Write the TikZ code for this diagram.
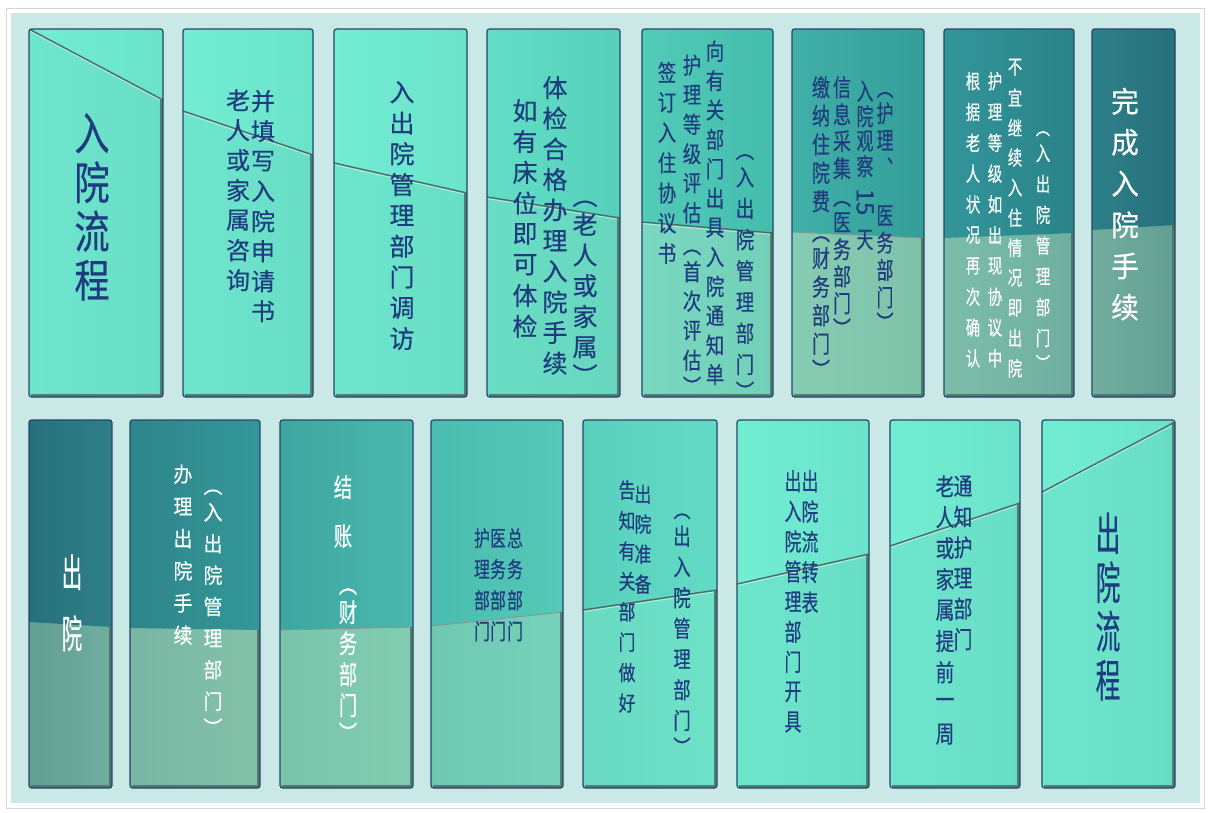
\documentclass[tikz,border=0pt]{standalone}
\usepackage{fontspec}
\usepackage{graphicx}
\newfontfamily\cjk[FakeBold=0.4]{Noto Sans CJK SC}
\makeatletter
\newcommand\vcol[4]{%
  \fontsize{#1}{#1}\selectfont
  \def\vp{#2}%
  \vbox{\offinterlineskip
    \@tfor\vch:=#4\do{%
      \vbox to #2pt{\vss\hbox to 0pt{\hss\scalebox{#3}[1]{\vch}\hss}\vss}}}}
\makeatother
\newcommand\po{\vbox to \vp pt{\vss\hbox{\rotatebox{-90}{（}}\kern0.5pt}}
\newcommand\pc{\vbox to \vp pt{\kern0.5pt\hbox{\rotatebox{-90}{）}}\vss}}
\definecolor{bgc}{HTML}{C9E8E6}
\definecolor{navy}{HTML}{1F3D7E}
\definecolor{bord}{HTML}{22486A}
\definecolor{shd}{HTML}{4E6C64}
\definecolor{La}{HTML}{72ECD3}\definecolor{Lb}{HTML}{6AE3CA}
\definecolor{Lc}{HTML}{6DE5CC}\definecolor{Ld}{HTML}{69DEC6}
\definecolor{t4a}{HTML}{62DEC6}\definecolor{t4b}{HTML}{55D0BA}
\definecolor{t4c}{HTML}{6ADDC4}\definecolor{t4d}{HTML}{68D6BF}
\definecolor{t5a}{HTML}{52CBB8}\definecolor{t5b}{HTML}{45BDAD}
\definecolor{t5c}{HTML}{7AD8C0}\definecolor{t5d}{HTML}{72CFB8}
\definecolor{t6a}{HTML}{40B0A8}\definecolor{t6b}{HTML}{349E9A}
\definecolor{t6c}{HTML}{86CCB2}\definecolor{t6d}{HTML}{7EC2AA}
\definecolor{t7a}{HTML}{32959A}\definecolor{t7b}{HTML}{2A8388}
\definecolor{t7c}{HTML}{7CBDA9}\definecolor{t7d}{HTML}{70AF9F}
\definecolor{t8a}{HTML}{2E7F88}\definecolor{t8b}{HTML}{26707C}
\definecolor{t8c}{HTML}{72AE9E}\definecolor{t8d}{HTML}{629E92}
\definecolor{b2a}{HTML}{2D8589}\definecolor{b2b}{HTML}{349799}
\definecolor{b2c}{HTML}{78B6A2}\definecolor{b2d}{HTML}{84C2AC}
\definecolor{b3a}{HTML}{3EA6A0}\definecolor{b3b}{HTML}{4AB8AE}
\definecolor{b3c}{HTML}{7AC4AC}\definecolor{b3d}{HTML}{82CCB2}
\definecolor{b4a}{HTML}{4ABDB0}\definecolor{b4b}{HTML}{55C8B7}
\definecolor{b4c}{HTML}{70C8B2}\definecolor{b4d}{HTML}{76D2BA}
\definecolor{b5a}{HTML}{58D0BC}\definecolor{b5b}{HTML}{63DAC4}
\definecolor{b5c}{HTML}{6ADAC3}\definecolor{b5d}{HTML}{6EE2C8}
\tikzset{
  lt/.style={left color=La, right color=Lb},
  lb/.style={left color=Lc, right color=Ld},
  t4t/.style={left color=t4a, right color=t4b}, t4l/.style={left color=t4c, right color=t4d},
  t5t/.style={left color=t5a, right color=t5b}, t5l/.style={left color=t5c, right color=t5d},
  t6t/.style={left color=t6a, right color=t6b}, t6l/.style={left color=t6c, right color=t6d},
  t7t/.style={left color=t7a, right color=t7b}, t7l/.style={left color=t7c, right color=t7d},
  t8t/.style={left color=t8a, right color=t8b}, t8l/.style={left color=t8c, right color=t8d},
  b1t/.style={left color=t8b, right color=t8a}, b1l/.style={left color=t8d, right color=t8c},
  b2t/.style={left color=b2a, right color=b2b}, b2l/.style={left color=b2c, right color=b2d},
  b3t/.style={left color=b3a, right color=b3b}, b3l/.style={left color=b3c, right color=b3d},
  b4t/.style={left color=b4a, right color=b4b}, b4l/.style={left color=b4c, right color=b4d},
  b5t/.style={left color=b5a, right color=b5b}, b5l/.style={left color=b5c, right color=b5d},
  divline/.style={draw=shd, line width=1.4pt,
    preaction={draw=white, draw opacity=0.45, line width=1pt, transform canvas={yshift=-1.6pt}}},
  divmid/.style={draw=shd!70, line width=0.9pt},
  divsoft/.style={draw=none},
  panelborder/.style={draw=bord, line width=1.2pt, rounded corners=2.5pt},
  shadowedge/.style={draw=shd, line width=3pt, opacity=0.85},
  tn/.style={inner sep=0pt, anchor=north, text=navy, font=\cjk},
  tw/.style={tn, text=white},
}
\newcommand\panel[9]{%
  \begin{scope}
    \clip[rounded corners=2.5pt] (#1,#3) rectangle (#2,#4);
    \path[#8] (#1,#3) rectangle (#2,#4);
    \path[#7] (#1,#3) -- (#2,#3) -- (#2,#6) -- (#1,#5) -- cycle;
    \draw[#9] (#1,#5) -- (#2,#6);
  \end{scope}
  \draw[shadowedge] (#2-1.8,#6) -- (#2-1.8,#4-1.6) -- (#1+2,#4-1.6);
  \draw[panelborder] (#1,#3) rectangle (#2,#4);
}
\begin{document}
\begin{tikzpicture}[x=1pt,y=-1pt]
\useasboundingbox (0,0) rectangle (1209,812);
\fill[white] (0,0) rectangle (1209,812);
\draw[black!16, line width=0.8pt] (6,8) rectangle (1204,808);
\fill[bgc] (11,13) rectangle (1200,803);
% top row panels
\panel{29}{163}{29}{397}{29}{100}{lt}{lb}{divline}
\panel{183}{313}{29}{397}{111}{155}{lt}{lb}{divline}
\panel{334}{467}{29}{397}{163}{193}{lt}{lb}{divline}
\panel{487}{620}{29}{397}{197}{218}{t4t}{t4l}{divline}
\panel{642}{773}{29}{397}{222}{233}{t5t}{t5l}{divline}
\panel{792}{924}{29}{397}{232}{238}{t6t}{t6l}{divmid}
\panel{944}{1074}{29}{397}{238}{233}{t7t}{t7l}{divsoft}
\panel{1092}{1175}{29}{397}{230}{225}{t8t}{t8l}{divsoft}
% bottom row panels
\panel{29}{112}{420}{788}{622}{627}{b1t}{b1l}{divsoft}
\panel{130}{260}{420}{788}{628}{630}{b2t}{b2l}{divsoft}
\panel{280}{413}{420}{788}{630}{627}{b3t}{b3l}{divmid}
\panel{431}{563}{420}{788}{626}{612}{b4t}{b4l}{divmid}
\panel{583}{717}{420}{788}{610}{590}{b5t}{b5l}{divline}
\panel{737}{869}{420}{788}{584}{554}{lt}{lb}{divline}
\panel{890}{1020}{420}{788}{546}{503}{lt}{lb}{divline}
\panel{1042}{1175}{420}{788}{492}{422}{lt}{lb}{divline}
% top row texts
\node[tn] (t1) at (92,108.5) {\vcol{45}{49}{0.78}{入院流程}};
\node[tn] (t2a) at (263,86) {\vcol{24}{30}{1}{并填写入院申请书}};
\node[tn] (t2b) at (238,85) {\vcol{24}{30}{1}{老人或家属咨询}};
\node[tn] (t3) at (402,76.6) {\vcol{25}{30.8}{1}{入出院管理部门调访}};
\node[tn] (t4a) at (585,177.9) {\vcol{25}{30.75}{1}{{\po}老人或家属{\pc}}};
\node[tn] (t4b) at (555,72.2) {\vcol{25}{30.6}{1}{体检合格办理入院手续}};
\node[tn] (t4c) at (525,95.1) {\vcol{25}{30.8}{1}{如有床位即可体检}};
\node[tn] (t5a) at (745,130.2) {\vcol{23}{31.2}{0.8}{{\po}入出院管理部门{\pc}}};
\node[tn] (t5b) at (715,36.3) {\vcol{23}{29.4}{0.8}{向有关部门出具入院通知单}};
\node[tn] (t5c) at (692,50.25) {\vcol{23}{29.5}{0.8}{护理等级评估{\po}首次评估{\pc}}};
\node[tn] (t5d) at (667,56.9) {\vcol{23}{30.2}{0.8}{签订入住协议书}};
\node[tn] (t6a1) at (885,72.5) {\vcol{24}{27}{0.7}{{\po}护理︑}};
\node[tn] (t6a2) at (885,201.5) {\vcol{24}{27.3}{0.7}{医务部门{\pc}}};
\node[tn] (t6b1) at (865,78.5) {\vcol{24}{25}{0.7}{入院观察}};
\node[tn, anchor=center, rotate=-90] (t6b2) at (865,202) {\fontsize{24}{24}\selectfont 15};
\node[tn, anchor=center] (t6b3) at (865,240) {\fontsize{24}{24}\selectfont\scalebox{0.7}[1]{天}};
\node[tn] (t6c) at (842,73.5) {\vcol{24}{27}{0.75}{信息采集{\po}医务部门{\pc}}};
\node[tn] (t6d) at (821,72.75) {\vcol{24}{28.5}{0.75}{缴纳住院费{\po}财务部门{\pc}}};
\node[tw] (t7a) at (1043,106.8) {\vcol{20}{30.8}{0.72}{{\po}入出院管理部门{\pc}}};
\node[tw] (t7b) at (1015,52) {\vcol{20}{30.1}{0.72}{不宜继续入住情况即出院}};
\node[tw] (t7c) at (995,65.6) {\vcol{20}{30.8}{0.72}{护理等级如出现协议中}};
\node[tw] (t7d) at (973,65.6) {\vcol{20}{30.8}{0.72}{根据老人状况再次确认}};
\node[tw] (t8) at (1125,80.4) {\vcol{29}{41.2}{0.95}{完成入院手续}};
% bottom row texts
\node[tw] (b1) at (72,541.5) {\vcol{39}{61}{0.52}{出院}};
\node[tw] (b2a) at (183,457.9) {\vcol{21}{32.2}{0.9}{办理出院手续}};
\node[tw] (b2b) at (213,464.75) {\vcol{21}{31.5}{0.9}{{\po}入出院管理部门{\pc}}};
\node[tw] (b3a) at (343,462.5) {\vcol{26}{49}{0.7}{结账}};
\node[tw] (b3b) at (348,565.5) {\vcol{26}{31}{0.7}{{\po}财务部门{\pc}}};
\node[tn] (b4a) at (515,522.5) {\vcol{22}{31}{0.72}{总务部门}};
\node[tn] (b4b) at (498,522.5) {\vcol{22}{31}{0.72}{医务部门}};
\node[tn] (b4c) at (482,522.5) {\vcol{22}{31}{0.72}{护理部门}};
\node[tn] (b5a) at (682,489.95) {\vcol{23}{30.7}{0.75}{{\po}出入院管理部门{\pc}}};
\node[tn] (b5b) at (643,479) {\vcol{21}{30}{0.8}{出院准备}};
\node[tn] (b5c) at (627,474.8) {\vcol{21}{30.4}{0.8}{告知有关部门做好}};
\node[tn] (b6a) at (810,465.85) {\vcol{24}{30.3}{0.7}{出院流转表}};
\node[tn] (b6b) at (793,465.95) {\vcol{24}{30.1}{0.7}{出入院管理部门开具}};
\node[tn] (b7a) at (963,470.7) {\vcol{24}{30.6}{0.78}{通知护理部门}};
\node[tn] (b7b) at (945,470.5) {\vcol{24}{31}{0.78}{老人或家属提前一周}};
\node[tn] (b8) at (1108,508.5) {\vcol{45}{49}{0.55}{出院流程}};
\end{tikzpicture}
\end{document}
